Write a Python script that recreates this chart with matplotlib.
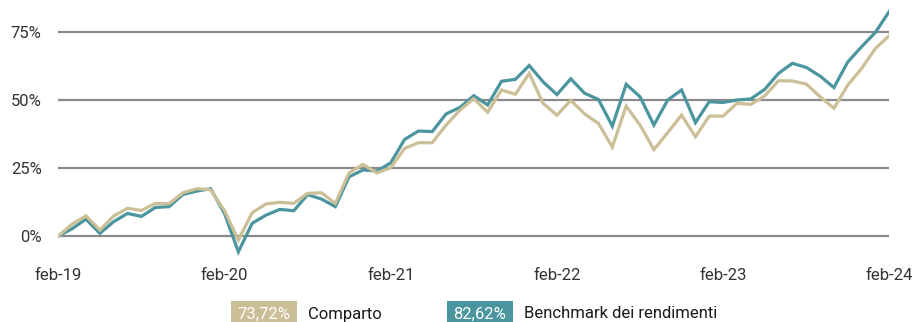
import matplotlib
matplotlib.use("Agg")
import matplotlib.pyplot as plt
from matplotlib.patches import Rectangle
import numpy as np

plt.rcParams['font.family'] = ['Roboto', 'DejaVu Sans']

# Cumulative performance, monthly from feb-19 to feb-24 (%)
comparto = [0.0, 4.4, 7.4, 2.2, 7.4, 10.2, 9.4, 12.0, 11.9, 15.9,
            17.4, 17.0, 9.3, -1.5, 8.6, 11.8, 12.4, 12.0, 15.7, 15.9,
            12.0, 23.3, 26.3, 23.2, 25.1, 32.2, 34.3, 34.3, 40.8, 46.3,
            50.5, 45.5, 53.7, 52.1, 59.8, 48.8, 44.4, 49.9, 44.9, 41.4,
            32.7, 47.8, 40.8, 31.8, 38.0, 44.5, 36.5, 44.1, 44.1, 48.8,
            48.4, 51.5, 57.1, 57.0, 55.9, 51.2, 47.0, 55.5, 61.6, 69.0,
            73.72]
benchmark = [0.0, 2.7, 6.2, 1.0, 5.3, 8.3, 7.2, 10.5, 10.8, 15.3,
             16.5, 17.4, 8.3, -5.8, 4.7, 7.7, 9.8, 9.3, 15.2, 13.6,
             10.8, 21.8, 24.3, 23.9, 26.9, 35.5, 38.6, 38.4, 44.9, 47.3,
             51.6, 48.2, 56.9, 57.6, 62.7, 56.7, 52.0, 57.8, 52.5, 50.2,
             40.4, 55.8, 51.2, 40.8, 50.0, 53.7, 41.7, 49.4, 49.1, 50.0,
             50.4, 53.9, 59.8, 63.5, 62.0, 58.8, 54.6, 64.0, 69.6, 74.9,
             82.62]
tick_months = [0, 12, 24, 36, 48, 60]
tick_labels = ['feb-19', 'feb-20', 'feb-21', 'feb-22', 'feb-23', 'feb-24']
y_ticks = [0, 25, 50, 75]
series_names = ['Comparto', 'Benchmark dei rendimenti']

c_beige = '#cbbf97'
c_teal = '#4b959f'

fig = plt.figure(figsize=(9.14, 3.22), dpi=100)
ax = fig.add_axes([0.0638, 0.1994, 0.9092, 0.7856])

months = np.arange(len(comparto))
for y in y_ticks:
    ax.axhline(y, color='#8a8a8a', lw=1.6, zorder=1)
ax.plot(months, comparto, color=c_beige, lw=2.3, zorder=3, solid_joinstyle='miter')
ax.plot(months, benchmark, color=c_teal, lw=2.3, zorder=2, solid_joinstyle='miter')

ax.set_xlim(0, 60)
ax.set_ylim(-8, 85)
ax.set_xticks(tick_months)
ax.set_xticklabels(tick_labels)
ax.set_yticks(y_ticks)
ax.set_yticklabels([f"{v}%" for v in y_ticks])
ax.tick_params(axis='both', length=0, labelsize=12, colors='#333333')
ax.tick_params(axis='y', pad=12)
ax.tick_params(axis='x', pad=7)
for s in ax.spines.values():
    s.set_visible(False)

# Legend boxes with final values
W, H = 914.0, 322.0
finals = [comparto[-1], benchmark[-1]]
colors = [c_beige, c_teal]
box_x = [231, 447]
for bx, val, col, name in zip(box_x, finals, colors, series_names):
    fig.patches.append(Rectangle((bx / W, (H - 330) / H), 66 / W, 29 / H,
                                 transform=fig.transFigure, color=col, lw=0))
    fig.text((bx + 33) / W, 1 - 314 / H, f"{val:.2f}%".replace('.', ','),
             ha='center', va='center', color='white', fontsize=12)
    fig.text((bx + 77) / W, 1 - 314 / H, name, ha='left', va='center',
             color='#1a1a1a', fontsize=12)

fig.savefig('out.png', dpi=100)
